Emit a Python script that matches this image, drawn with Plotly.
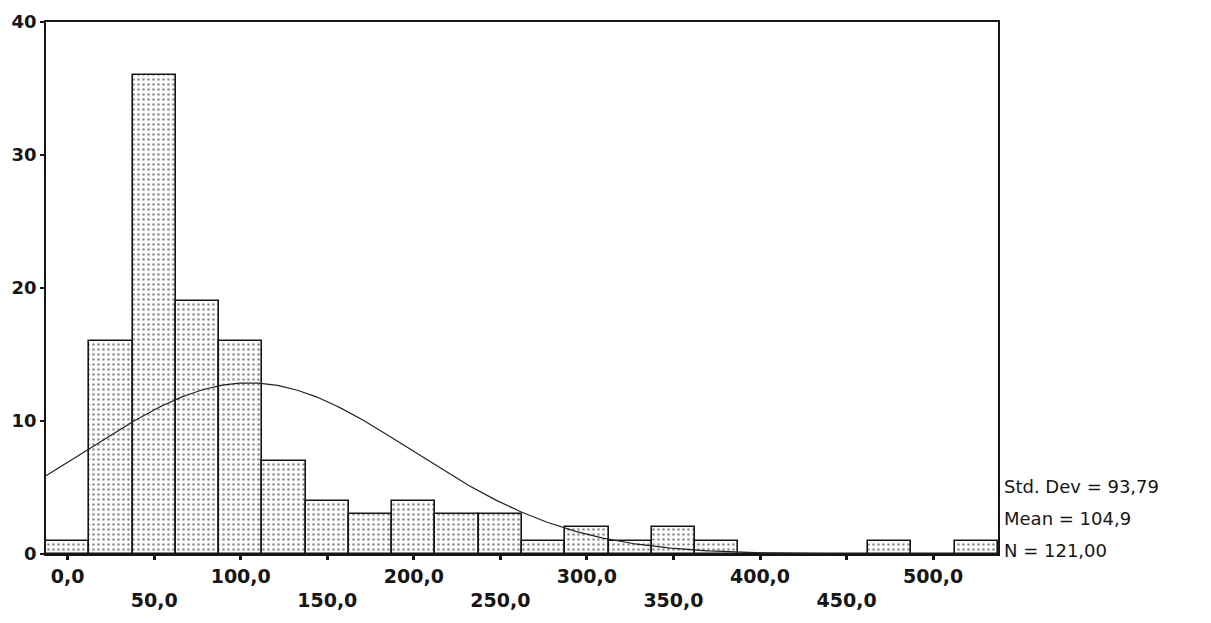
import numpy as np
import plotly.graph_objects as go

bin_centers = [0, 25, 50, 75, 100, 125, 150, 175, 200, 225, 250, 275, 300, 325,
               350, 375, 400, 425, 450, 475, 500, 525]
counts = [1, 16, 36, 19, 16, 7, 4, 3, 4, 3, 3, 1, 2, 1, 2, 1, 0, 0, 0, 1, 0, 1]
bin_width = 25
std_dev = 93.79
mean = 104.9
n_obs = 121
x_tickvals = [0, 50, 100, 150, 200, 250, 300, 350, 400, 450, 500]
x_ticktext = ["0,0", "<br>50,0", "100,0", "<br>150,0", "200,0", "<br>250,0",
              "300,0", "<br>350,0", "400,0", "<br>450,0", "500,0"]
y_tickvals = [0, 10, 20, 30, 40]
stats_lines = ["Std. Dev = 93,79", "Mean = 104,9", "N = 121,00"]

FONT = "DejaVu Sans, Verdana, sans-serif"
INK = "#161616"

fig = go.Figure()
fig.add_trace(go.Bar(
    x=bin_centers, y=counts, width=bin_width,
    marker=dict(color="white",
                line=dict(color=INK, width=1.6),
                pattern=dict(shape=".", fgcolor="#2a2a2a", bgcolor="#fcfcfc",
                             size=5, solidity=0.22)),
    showlegend=False, hoverinfo="x+y",
))

xs = np.linspace(-12.5, 537.5, 400)
ys = n_obs * bin_width / (std_dev * np.sqrt(2 * np.pi)) * np.exp(-0.5 * ((xs - mean) / std_dev) ** 2)
fig.add_trace(go.Scatter(x=xs, y=ys, mode="lines",
                         line=dict(color="#222222", width=1.2),
                         showlegend=False, hoverinfo="skip"))

annotations = []
for i, line in enumerate(stats_lines):
    annotations.append(dict(
        text=line, xref="paper", yref="paper", x=1.0, y=0.0,
        xanchor="left", yanchor="middle", xshift=4, yshift=68 - 32 * i,
        showarrow=False, font=dict(family=FONT, size=18, color=INK),
    ))

fig.update_layout(
    width=1211, height=623,
    margin=dict(l=38, r=221, t=14, b=77),
    paper_bgcolor="white", plot_bgcolor="white",
    bargap=0,
    font=dict(family=FONT, size=18, color=INK),
    annotations=annotations,
)
fig.update_xaxes(range=[-12.5, 537.5], tickvals=x_tickvals, ticktext=x_ticktext,
                 showline=True, linecolor=INK, linewidth=1.6, mirror=True,
                 ticks="outside", ticklen=4, tickwidth=3, tickcolor=INK,
                 showgrid=False, zeroline=False, automargin=False,
                 tickfont=dict(family=FONT, size=19, color=INK, weight="bold"))
fig.update_yaxes(range=[0, 40], tickvals=y_tickvals,
                 showline=True, linecolor=INK, linewidth=1.6, mirror=True,
                 ticks="outside", ticklen=4, tickwidth=2, tickcolor=INK,
                 showgrid=False, zeroline=False, automargin=False,
                 tickfont=dict(family=FONT, size=18, color=INK, weight="bold"))

fig.write_html("out.html")
